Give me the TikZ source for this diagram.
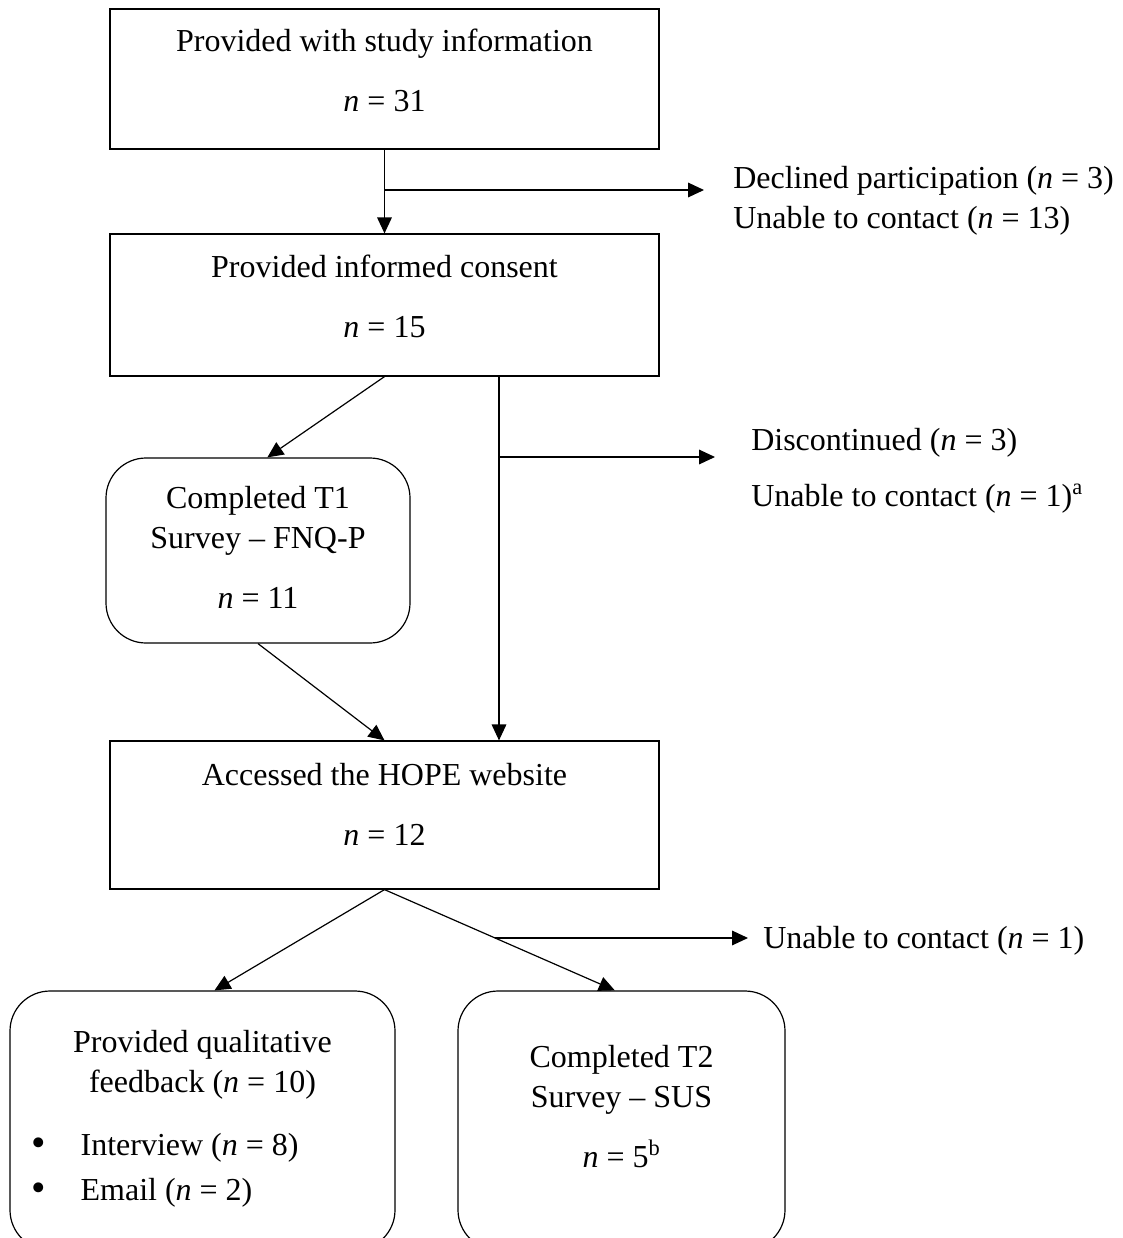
\documentclass[tikz,border=0pt]{standalone}
\usepackage{fontspec}
\setmainfont{Liberation Serif}
\usetikzlibrary{arrows.meta,calc}

\tikzset{
  box/.style={draw, line width=0.9pt, minimum width=411.75pt},
  roundbox/.style={draw, line width=0.9pt, rounded corners=30pt},
  arr/.style={-{Triangle[length=12pt,width=11pt]}, line width=0.9pt},
  txt/.style={align=center, inner sep=0pt},
  note/.style={align=left, anchor=west, inner sep=0pt},
}
\newcommand{\listdot}{\makebox[37pt][l]{\raisebox{-1pt}{\fontsize{31}{31}\selectfont\textbullet}}}

\begin{document}
\begin{tikzpicture}[x=0.75pt, y=-0.75pt, font=\fontsize{24}{30}\selectfont]
  \clip (0,0) rectangle (1122,1238);

  % boxes
  \node[box, minimum height=105pt]   (info)     at (384.5,79)  {};
  \node[box, minimum height=106.5pt] (consent)  at (384.5,305) {};
  \node[roundbox, minimum width=228pt, minimum height=138.75pt] (t1) at (258,550.5) {};
  \node[box, minimum height=111pt]   (website)  at (384.5,815) {};
  \node[roundbox, minimum width=288.75pt, minimum height=194.25pt] (feedback) at (202.5,1120.5) {};
  \node[roundbox, minimum width=245.25pt, minimum height=194.25pt] (t2) at (621.5,1120.5) {};

  % box texts
  \node[txt] (infotxt)    at (384.5,70)  {Provided with study information\\[15pt]\textit{n} = 31};
  \node[txt] (consenttxt) at (384.5,296) {Provided informed consent\\[15pt]\textit{n} = 15};
  \node[txt] (t1txt)      at (258,547)   {Completed T1\\Survey – FNQ-P\\[15pt]\textit{n} = 11};
  \node[txt] (websitetxt) at (384.5,804) {Accessed the HOPE website\\[15pt]\textit{n} = 12};
  \node[txt] (fbtxt)      at (202.5,1065) {Provided qualitative\\feedback (\textit{n} = 10)};
  \node[note] (fbitems)   at (31,1170)   {\listdot Interview (\textit{n} = 8)\\[4pt]
                                          \listdot Email (\textit{n} = 2)};
  \node[txt] (t2txt)      at (621.5,1107) {Completed T2\\Survey – SUS\\[15pt]\textit{n} = 5\textsuperscript{b}};

  % side notes
  \node[note] (declined) at (733,201) {Declined participation (\textit{n} = 3)\\Unable to contact (\textit{n} = 13)};
  \node[note] (lost1)    at (751,471) {Discontinued (\textit{n} = 3)\\[12pt]Unable to contact (\textit{n} = 1)\textsuperscript{a}};
  \node[note] (lost2)    at (763,941) {Unable to contact (\textit{n} = 1)};

  % connectors
  \draw[arr] (info) -- (consent);
  \coordinate (split1) at (384.5,190);
  \coordinate (end1) at (704,190);
  \draw[arr] (split1) -- (end1);

  \draw[arr] (consent.south) -- ([xshift=7pt]t1.north);
  \coordinate (split2) at (499,457);
  \coordinate (end2) at (715,457);
  \draw[arr] (consent.south -| split2) -- (website.north -| split2);
  \draw[arr] (split2) -- (end2);
  \draw[arr] (t1.south) -- (website.north);

  \draw[arr] (website.south) -- ([xshift=9pt]feedback.north);
  \draw[arr] (website.south) -- ([xshift=-5pt]t2.north);
  \coordinate (split3) at ($(website.south)!0.48!([xshift=-5pt]t2.north)$);
  \coordinate (end3) at (748,938);
  \draw[arr] (split3) -- (split3 -| end3);
\end{tikzpicture}
\end{document}
